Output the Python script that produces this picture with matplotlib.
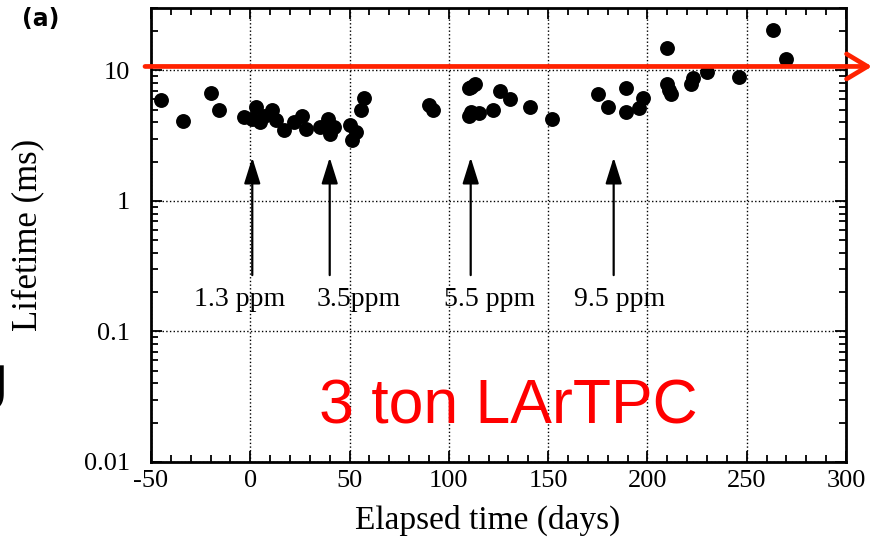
import matplotlib
matplotlib.use("Agg")
import matplotlib.pyplot as plt
from matplotlib.ticker import FixedLocator, FixedFormatter, MultipleLocator, LogLocator, NullFormatter
from matplotlib.transforms import blended_transform_factory

plt.rcParams['axes.unicode_minus'] = False
plt.rcParams['font.family'] = ['Liberation Serif', 'DejaVu Serif']

# ---- data ----
days = [-45, -34, -20, -16, -3, 1, 3, 5, 7, 11,
        13, 17, 22, 26, 28, 35, 39, 40, 42, 50,
        51, 53, 56, 57.5, 90, 92, 110, 111, 113, 110,
        111, 115, 122, 126, 131, 141, 152, 175, 180, 189,
        189, 196, 198, 210, 210, 211, 212, 222, 223, 230,
        246, 263, 270]
lifetime = [5.9, 4.07, 6.65, 4.95, 4.4, 4.27, 5.25, 4.03, 4.5, 4.95,
            4.15, 3.47, 4.03, 4.5, 3.58, 3.69, 4.27, 3.28, 3.7, 3.8,
            2.9, 3.37, 4.95, 6.1, 5.4, 5.0, 7.3, 7.5, 7.9, 4.5,
            4.8, 4.67, 5.0, 6.97, 6.0, 5.2, 4.22, 6.57, 5.2, 7.3,
            4.8, 5.1, 6.1, 14.8, 7.9, 7.06, 6.6, 7.9, 8.7, 9.75,
            8.95, 20.4, 12.3]

ppm_labels = ["1.3 ppm", "3.5ppm", "5.5 ppm", "9.5 ppm"]
ppm_arrow_x = [1, 40, 111, 183]
ppm_label_x = [-5.3, 54.5, 120.4, 186.2]

x_ticks = [-50, 0, 50, 100, 150, 200, 250, 300]
y_ticks = [0.01, 0.1, 1, 10]
y_tick_labels = ["0.01", "0.1", "1", "10"]

target_lifetime = 10.7

# ---- figure ----
fig = plt.figure(figsize=(8.75, 5.41), dpi=100)
ax = fig.add_axes([151/875, 79/541, 695/875, 454/541])

ax.scatter(days, lifetime, s=115, color='black', zorder=3, linewidths=0)

ax.set_yscale('log')
ax.set_xlim(-50, 300)
ax.set_ylim(0.01, 30)

ax.xaxis.set_major_locator(FixedLocator(x_ticks))
ax.xaxis.set_minor_locator(MultipleLocator(10))
ax.yaxis.set_major_locator(FixedLocator(y_ticks))
ax.yaxis.set_major_formatter(FixedFormatter(y_tick_labels))
ax.yaxis.set_minor_locator(LogLocator(base=10, subs=range(2, 10)))
ax.yaxis.set_minor_formatter(NullFormatter())

ax.grid(True, which='major', linestyle=':', color='black', linewidth=1.0)

ax.tick_params(which='both', direction='in', top=True, right=True, width=1.3)
ax.tick_params(which='major', length=8, labelsize=19)
ax.tick_params(axis='x', which='major', pad=6)
ax.tick_params(axis='y', which='major', pad=15)
ax.tick_params(which='minor', length=5)
for sp in ax.spines.values():
    sp.set_linewidth(2)

ax.set_xlabel("Elapsed time (days)", fontsize=24)
ax.xaxis.set_label_coords(0.485, -0.095)
ax.xaxis.label.set_va('top')
ax.set_ylabel("Lifetime (ms)", fontsize=25)
ax.yaxis.set_label_coords(-0.153, 0.5)

# ppm arrows and labels
for xa, xl, lab in zip(ppm_arrow_x, ppm_label_x, ppm_labels):
    ax.annotate('', xy=(xa, 2.15), xytext=(xa, 0.27),
                arrowprops=dict(arrowstyle='-|>,head_length=0.8,head_width=0.25',
                                color='black', lw=1.6, mutation_scale=20,
                                shrinkA=0, shrinkB=0), zorder=4)
    ax.text(xl, 0.156, lab, ha='center', va='baseline', fontsize=20)

# red target arrow
trans = blended_transform_factory(fig.transFigure, ax.transData)
ax.annotate('', xy=(872/875, target_lifetime), xytext=(145/875, target_lifetime),
            xycoords=trans, textcoords=trans, annotation_clip=False,
            arrowprops=dict(arrowstyle='->,head_length=0.75,head_width=0.45',
                            color='#ff2200', lw=3.4, mutation_scale=20,
                            shrinkA=0, shrinkB=0), zorder=5)

fig.text(508/875, (541-423)/541, "3 ton LArTPC", color='#ff0000', fontsize=45,
         ha='center', va='baseline', family=['Liberation Sans', 'DejaVu Sans'])

fig.text(22/875, 1 - 7/541, "(a)", fontsize=17, fontweight='bold',
         ha='left', va='top', family=['DejaVu Sans'])

fig.text(9/875, (541-398)/541, "g", fontsize=42, ha='right', va='baseline',
         family=['DejaVu Sans'])

fig.savefig("out.png", dpi=100)
